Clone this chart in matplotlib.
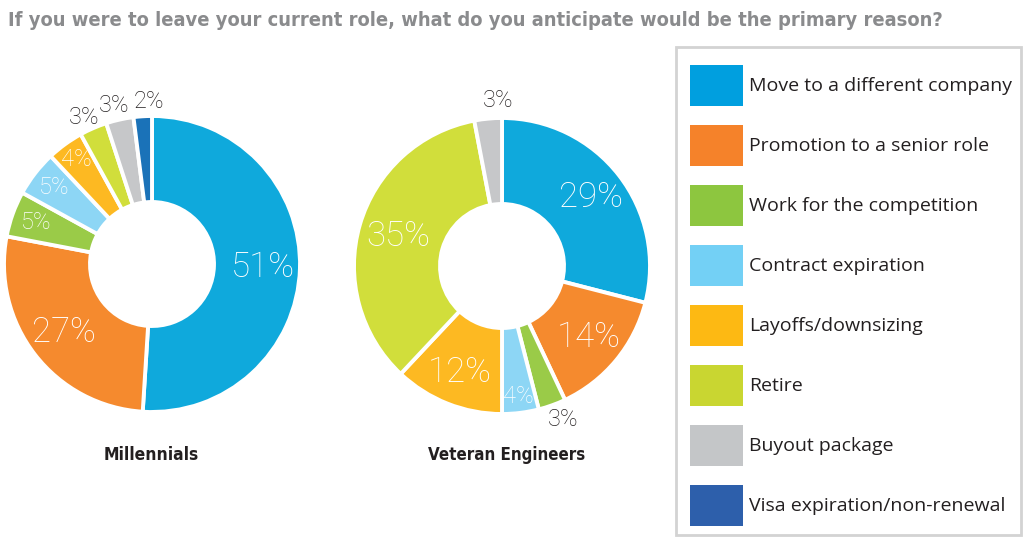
import numpy as np
import matplotlib
matplotlib.use("Agg")
import matplotlib.pyplot as plt
from matplotlib.patches import Rectangle
from matplotlib import font_manager

# data
reasons = ["Move to a different company", "Promotion to a senior role",
           "Work for the competition", "Contract expiration",
           "Layoffs/downsizing", "Retire", "Buyout package",
           "Visa expiration/non-renewal"]
colors = ["#0fa9dc", "#f58a2e", "#9acb48", "#8dd6f5",
          "#fdb922", "#d1de3b", "#c6c7c9", "#1a72b8"]
legend_colors = ["#009fdf", "#f5822a", "#8dc63f", "#73d0f5",
                 "#fdb913", "#c9d631", "#c4c6c8", "#2d5fab"]
millennials = [51, 27, 5, 5, 4, 3, 3, 2]
veterans = [29, 14, 3, 4, 12, 35, 3, 0]
groups = ["Millennials", "Veteran Engineers"]

title = "If you were to leave your current role, what do you anticipate would be the primary reason?"

W, H = 1033, 547
light = ["Roboto", "DejaVu Sans"]
legfont = ["Open Sans", "DejaVu Sans"]


# look for a condensed bold face, else plain Liberation Sans bold
def condensed_bold():
    good = []
    for f in font_manager.fontManager.ttflist:
        st = str(f.stretch).lower()
        nm = f.name.lower()
        is_cond = ("condensed" in st or "narrow" in nm or "condensed" in nm
                   or (st.isdigit() and int(st) < 100))
        wt = f.weight if isinstance(f.weight, int) else {"bold": 700}.get(str(f.weight), 400)
        if is_cond and wt >= 600 and "oblique" not in f.style and "italic" not in f.style:
            good.append(f)
    if good:
        return font_manager.FontProperties(fname=good[0].fname)
    return font_manager.FontProperties(family="Liberation Sans", weight="bold")

cprop = condensed_bold()

fig = plt.figure(figsize=(W / 100, H / 100), dpi=100)
fig.patch.set_facecolor("white")
renderer = fig.canvas.get_renderer()


def fit_text(ax, x, y, s, width_px, prop, **kw):
    t = ax.text(x, y, s, fontproperties=prop, **kw)
    t.set_fontsize(20)
    w = t.get_window_extent(renderer=renderer).width
    t.set_fontsize(20 * width_px / w)
    return t


def px_axes(cx, cy, r):
    return fig.add_axes([(cx - r) / W, (H - cy - r) / H, 2 * r / W, 2 * r / H])


def donut(values, cx, cy, label_r, label_da, outside):
    ax = px_axes(cx, cy, 160)
    vals = np.array(values, dtype=float)
    keep = vals > 0
    ax.pie(vals[keep], colors=np.array(colors)[keep], radius=148 / 160,
           startangle=90, counterclock=False,
           wedgeprops=dict(width=(148 - 62) / 160, edgecolor="white", linewidth=2.8))
    ax.set_xlim(-1, 1)
    ax.set_ylim(-1, 1)
    ax.set_aspect("equal")
    ax.axis("off")
    cum = np.cumsum(vals) - vals / 2
    for i, v in enumerate(vals):
        if v <= 0:
            continue
        ang = np.deg2rad(90 - cum[i] / 100 * 360 + label_da[i])
        r = label_r[i] * 148 / 160
        col = "#231f20" if outside[i] else "white"
        ax.text(r * np.cos(ang), r * np.sin(ang), f"{int(v)}%",
                ha="center", va="center", color=col,
                fontsize=25 if v >= 10 else 17, family=light, fontweight="light")
    return ax


donut(millennials, 152, 264,
      [0.75, 0.75, 0.83, 0.84, 0.87, 1.09, 1.1, 1.1],
      [0, 0, 0, 0, 0, 1.5, 0.8, -2.5],
      [False, False, False, False, False, True, True, True])
donut(veterans, 502, 266,
      [0.76, 0.76, 1.12, 0.89, 0.77, 0.73, 1.12, 1.1],
      [0, 0, 2, 0, 0, 0, -4, 0],
      [False, False, True, False, False, False, True, True])

# overlay axes in pixel coordinates for texts and legend
ov = fig.add_axes([0, 0, 1, 1])
ov.set_xlim(0, W)
ov.set_ylim(H, 0)
ov.axis("off")
ov.patch.set_alpha(0)

fit_text(ov, 8, 20, title, 940, cprop, ha="left", va="center", color="#8a8b8d")
fit_text(ov, 151, 455, groups[0], 95, cprop, ha="center", va="center", color="#231f20")
fit_text(ov, 507, 455, groups[1], 158, cprop, ha="center", va="center", color="#231f20")

ov.add_patch(Rectangle((676, 47), 345, 488, facecolor="white",
                       edgecolor="#d3d3d3", linewidth=2))
for i, (lab, c) in enumerate(zip(reasons, legend_colors)):
    y = 85 + i * 60
    ov.add_patch(Rectangle((690, y - 20), 53, 41, facecolor=c,
                           edgecolor="none"))
    ov.text(749, y + 1, lab, ha="left", va="center", color="#231f20",
            fontsize=14, family=legfont, fontweight="medium")

fig.savefig("out.png", dpi=100, facecolor="white")
